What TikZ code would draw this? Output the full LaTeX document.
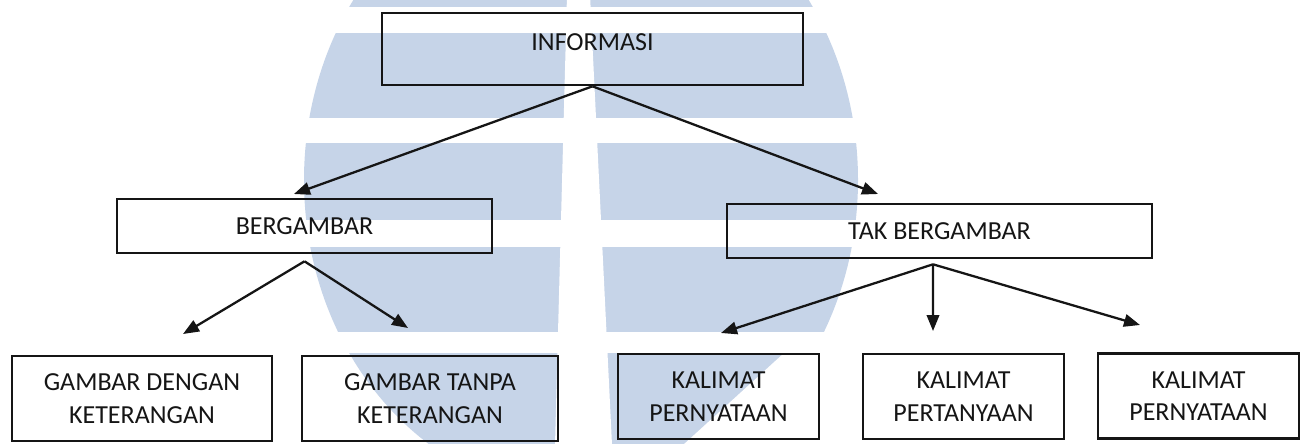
\documentclass[tikz,border=0pt]{standalone}
\usepackage{fontspec}
\setmainfont{Carlito}
\usetikzlibrary{arrows.meta}
\definecolor{cwater}{HTML}{C6D4E8}
\definecolor{cink}{HTML}{151515}
\tikzset{
  every picture/.style={line width=1.5pt},
  box/.style={draw=cink, text=cink, align=center, inner sep=0pt, font=\fontsize{14.8}{18.5}\selectfont},
  arrow/.style={-{Triangle[length=3.2mm, width=2.5mm]}, draw=cink, line width=1.3pt},
}

\begin{document}
\begin{tikzpicture}[
  top/.style={box, minimum width=8.42cm, minimum height=1.44cm},
  mid/.style={box, minimum height=1.08cm},
  leaf/.style={box, minimum width=4.02cm, minimum height=1.7cm}]
  \useasboundingbox (0,0) rectangle (26.1,-8.86);
  % ---------- watermark
  \begin{scope}
  \clip (11.62,-3.6) ellipse [x radius=5.54, y radius=6.32];
  \fill[cwater] (5,0.2) rectangle (18,-9);
  \end{scope}
  \foreach \a/\b in {-0.14/-0.66, -2.36/-2.86, -4.40/-4.94, -6.64/-7.06}
    \fill[white] (5,\a) rectangle (18,\b);
  \fill[white] (11.34,0.1) -- (11.80,0.1) -- (12.24,-8.9) -- (11.10,-8.9) -- cycle;
  \fill[white] (15.68,-7.06) -- (13.66,-8.9) -- (18,-8.9) -- (18,-7.06) -- cycle;
  % ---------- boxes
  \node[top, text depth=7.4pt] (info) at (11.85,-0.98) {INFORMASI};
  \node[mid, minimum width=7.5cm] (berg) at (6.09,-4.52) {BERGAMBAR};
  \node[mid, minimum width=8.5cm] (tak) at (18.79,-4.62) {TAK BERGAMBAR};
  \node[leaf, minimum width=5.2cm] (gdk) at (2.84,-7.97) {GAMBAR DENGAN\\KETERANGAN};
  \node[leaf, minimum width=5.12cm] (gtk) at (8.6,-7.97) {GAMBAR TANPA\\KETERANGAN};
  \node[leaf] (kp1) at (14.37,-7.93) {KALIMAT\\PERNYATAAN};
  \node[leaf] (kt) at (19.27,-7.93) {KALIMAT\\PERTANYAAN};
  \node[leaf] (kp2) at (23.97,-7.92) {KALIMAT\\PERNYATAAN};
  % ---------- arrows
  \coordinate (t1) at (5.88,-3.88);
  \coordinate (t2) at (17.56,-3.88);
  \coordinate (t3) at (3.66,-6.68);
  \coordinate (t4) at (8.16,-6.56);
  \coordinate (t5) at (14.42,-6.66);
  \coordinate (t6) at (18.66,-6.62);
  \coordinate (t7) at (22.80,-6.50);
  \coordinate (bsplit) at ([yshift=-1.4mm]berg.south);
  \coordinate (tsplit) at ([xshift=-1.3mm, yshift=-1mm]tak.south);
  \draw[arrow] (info.south) -- (t1);
  \draw[arrow] (info.south) -- (t2);
  \foreach \t in {t3,t4} \draw[arrow] (bsplit) -- (\t);
  \foreach \t in {t5,t6,t7} \draw[arrow] (tsplit) -- (\t);
\end{tikzpicture}
\end{document}
